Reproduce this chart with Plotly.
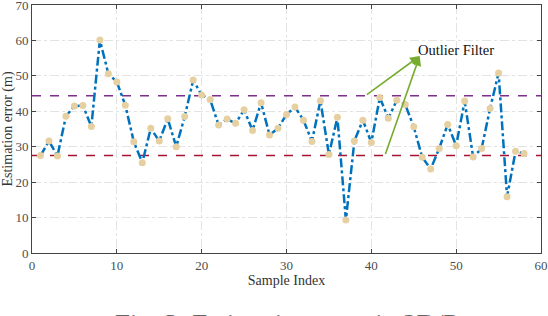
import plotly.graph_objects as go

sample_index = list(range(1, 59))
est_error = [27.5, 31.6, 27.4, 38.6, 41.5, 41.6, 35.7, 60.1, 50.6, 48.3,
             41.7, 31.4, 25.5, 35.2, 31.6, 37.9, 30.0, 38.5, 48.8, 44.6,
             43.3, 36.1, 37.8, 36.6, 40.4, 34.6, 42.4, 33.3, 35.2, 39.1,
             41.2, 37.5, 31.5, 43.0, 27.8, 38.3, 9.3, 31.6, 37.5, 31.2,
             43.9, 38.0, 43.1, 41.9, 35.6, 27.0, 23.7, 29.5, 36.3, 30.3,
             42.9, 27.1, 29.5, 40.8, 50.8, 15.9, 28.7, 28.1]
upper_threshold = 44.4
lower_threshold = 27.5
x_ticks = [0, 10, 20, 30, 40, 50, 60]
y_ticks = [0, 10, 20, 30, 40, 50, 60, 70]
arrow_tip = (45.7, 55.6)
arrow_starts = [(39.3, 44.4), (41.6, 27.5)]

FONT = "Liberation Serif"
fig = go.Figure()
fig.add_trace(go.Scatter(x=[0, 60], y=[upper_threshold] * 2, mode="lines",
                         line=dict(color="#7E2F8E", width=1.6, dash="dash"), showlegend=False))
fig.add_trace(go.Scatter(x=[0, 60], y=[lower_threshold] * 2, mode="lines",
                         line=dict(color="#A2142F", width=1.6, dash="dash"), showlegend=False))
fig.add_trace(go.Scatter(x=sample_index, y=est_error, mode="lines+markers",
                         line=dict(color="#0072BD", width=2.5, dash="dashdot"),
                         marker=dict(color="#E6D0A1", size=7),
                         showlegend=False))

for sx, sy in arrow_starts:
    fig.add_annotation(x=arrow_tip[0], y=arrow_tip[1], ax=sx, ay=sy,
                       xref="x", yref="y", axref="x", ayref="y",
                       showarrow=True, arrowhead=2, arrowsize=1.2, arrowwidth=1.6,
                       arrowcolor="#77AC30", text="")
fig.add_annotation(x=45.3, y=57.3, xref="x", yref="y", text="Outlier Filter",
                   showarrow=False, xanchor="left", yanchor="middle",
                   font=dict(family=FONT, size=14.5, color="#111"))
fig.add_annotation(x=0.5, y=-0.218, xref="paper", yref="paper",
                   text="Fig. 3: Estimation error in 2D/P",
                   showarrow=False, xanchor="center", yanchor="top",
                   font=dict(family=FONT, size=27, color="#666"))

axis_common = dict(showgrid=True, gridcolor="#e3e3e3", griddash="dashdot", gridwidth=1,
                   showline=True, linecolor="#444", linewidth=1, mirror="ticks",
                   ticks="inside", ticklen=4, tickcolor="#444",
                   tickfont=dict(family=FONT, size=13, color="#4d4d4d"),
                   ticklabeloverflow="allow",
                   zeroline=False, automargin=False)
fig.update_xaxes(range=[0, 60], tickvals=x_ticks, **axis_common,
                 title=dict(text="Sample Index", font=dict(family=FONT, size=14, color="#333"), standoff=1))
fig.update_yaxes(range=[0, 70], tickvals=y_ticks, **axis_common,
                 title=dict(text="Estimation error (m)", font=dict(family=FONT, size=14, color="#333"), standoff=2))
fig.update_layout(width=548, height=316, margin=dict(l=32, r=7, t=5, b=63),
                  plot_bgcolor="white", paper_bgcolor="white")
fig.write_html("out.html", post_script="document.body.style.margin='0';",
               config={"displayModeBar": False})
